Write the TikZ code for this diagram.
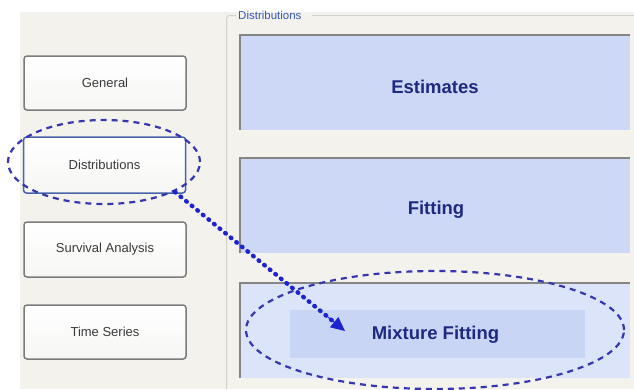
\documentclass[tikz,border=0pt]{standalone}
\usepackage{fontspec}
\setmainfont{Liberation Sans}
\usetikzlibrary{shapes.geometric,arrows.meta,calc}
\definecolor{bgbeige}{HTML}{F3F2EC}
\definecolor{btnborder}{HTML}{7C7C7C}
\definecolor{btntext}{HTML}{3A3A3A}
\definecolor{panelfill}{HTML}{CCD8F6}
\definecolor{panellight}{HTML}{DCE4FA}
\definecolor{innerfill}{HTML}{C9D5F5}
\definecolor{paneledge}{HTML}{858585}
\definecolor{navytext}{HTML}{1E2A80}
\definecolor{ringblue}{HTML}{3636B0}
\definecolor{arrowblue}{HTML}{1C24D0}
\definecolor{grouplabel}{HTML}{3458B8}
\definecolor{groupline}{HTML}{D2D2CA}
\definecolor{selborder}{HTML}{4A64A8}
\tikzset{
  btn/.style={draw=btnborder, line width=1.5pt, rounded corners=3pt,
    top color=white, bottom color=bgbeige!85!gray!30!white,
    minimum width=162pt, minimum height=54pt, inner sep=0pt,
    font=\fontsize{13}{14}\selectfont, text=btntext},
  panel/.style={fill=panelfill, draw=none, minimum width=390pt,
    minimum height=95pt, inner sep=0pt},
  paneltext/.style={font=\fontsize{18.5}{20}\selectfont\bfseries, text=navytext, inner sep=0pt},
  ring/.style={ellipse, draw=ringblue, line width=2.2pt, dash pattern=on 6pt off 5pt, inner sep=0pt},
  edge/.style={draw=paneledge, line width=2pt}
}
\begin{document}
\begin{tikzpicture}[x=1pt,y=-1pt]
\useasboundingbox (0,0) rectangle (634,389);
\fill[white] (0,0) rectangle (634,389);
\fill[bgbeige] (20,12) rectangle (634,389);
% group box
\draw[groupline, line width=1pt, rounded corners=3pt] (236,15.5) -- (226.5,15.5) -- (226.5,389);
\draw[groupline, line width=1pt] (312,15.5) -- (634,15.5);
\node[font=\fontsize{11.5}{12}\selectfont, text=grouplabel, inner sep=0pt, anchor=west] (grp) at (238,15) {Distributions};
% left buttons
\node[btn] (general) at (105,83) {General};
\node[btn, draw=selborder, minimum height=56pt] (distbtn) at (104.5,165) {Distributions};
\node[btn, minimum height=55pt] (survival) at (105,249.5) {Survival Analysis};
\node[btn] (timeser) at (105,332) {Time Series};
% right panels
\node[panel] (est) at (435,82.5) {};
\draw[edge] (est.south west) -- (est.north west) -- (est.north east);
\node[paneltext] (estt) at (435,87) {Estimates};
\node[panel] (fit) at (435,205.5) {};
\draw[edge] (fit.south west) -- (fit.north west) -- (fit.north east);
\node[paneltext] (fitt) at (436,210) {Fitting};
\node[panel, fill=panellight] (mix) at (435,330.5) {};
\draw[edge] (mix.south west) -- (mix.north west) -- (mix.north east);
\node[fill=innerfill, minimum width=295pt, minimum height=48pt, inner sep=0pt] (mixin) at (437.5,334) {};
\node[paneltext] (mixt) at (435.5,335) {Mixture Fitting};
% rings
\node[ring, minimum width=192pt, minimum height=84pt] (ring1) at (104,162) {};
\node[ring, minimum width=378pt, minimum height=118pt] (ring2) at (435,330) {};
% dotted arrow
\coordinate (astart) at (175,192);
\coordinate (aend) at (345,331);
\coordinate (amid) at ($(astart)!0.9!(aend)$);
\draw[arrowblue, line width=4.4pt, line cap=round, dash pattern=on 0.8pt off 6.4pt, shorten >=8pt] (astart) -- (aend);
\draw[arrowblue, -{Triangle[length=14pt,width=13pt]}, line width=1pt] (amid) -- (aend);
\end{tikzpicture}
\end{document}
